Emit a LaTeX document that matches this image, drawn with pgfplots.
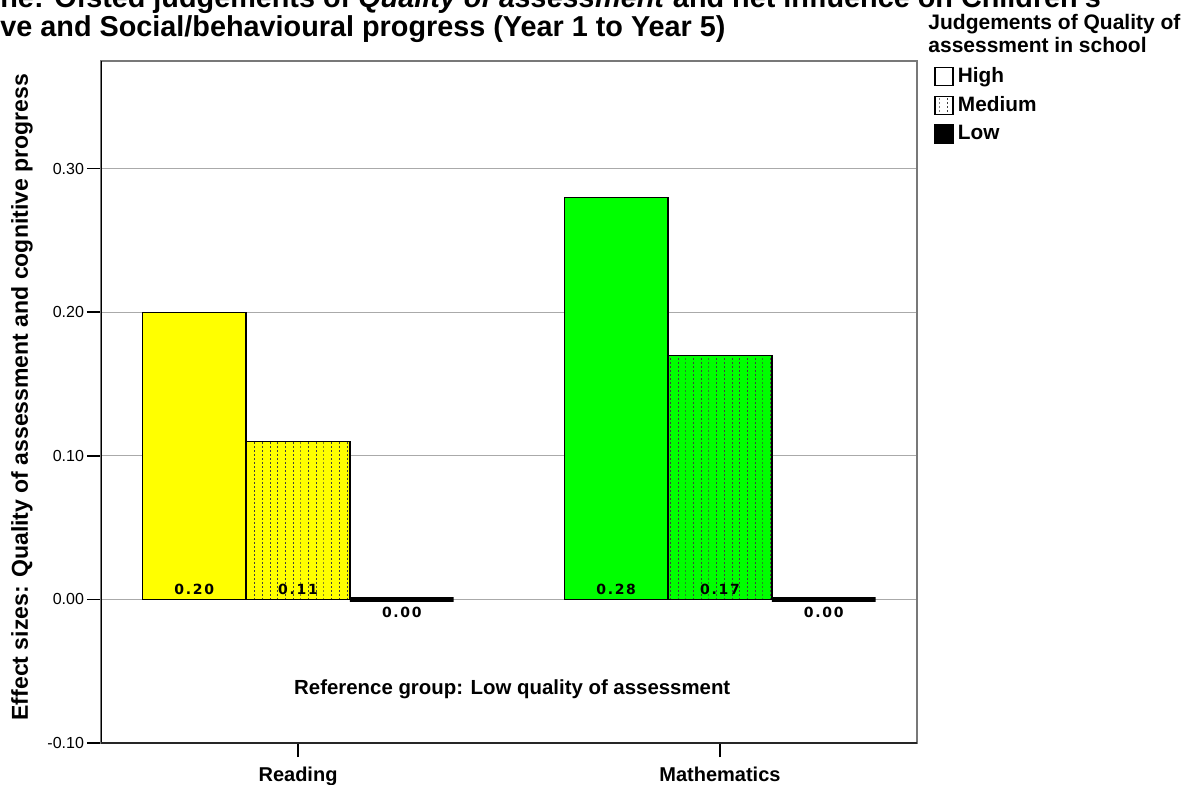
\documentclass[border=0pt]{standalone}
\usepackage{fontspec}
\setmainfont{Liberation Sans}
\newfontfamily\dejavu{DejaVu Sans}
\usepackage{pgfplots}
\pgfplotsset{compat=1.18}
\usetikzlibrary{patterns}

\pgfdeclarepatternformonly{vdots}{\pgfqpoint{0pt}{0pt}}{\pgfqpoint{1pt}{2pt}}{\pgfqpoint{3.85pt}{2pt}}{%
  \pgfpathrectangle{\pgfqpoint{0pt}{0pt}}{\pgfqpoint{0.5pt}{1pt}}\pgfusepath{fill}}

\definecolor{ybarc}{RGB}{255,255,0}
\definecolor{gbarc}{RGB}{0,255,0}
\definecolor{gridc}{RGB}{170,170,170}
\definecolor{framec}{RGB}{120,120,120}

\newcommand\vlab{\dejavu\bfseries\fontsize{7}{8}\selectfont\addfontfeature{LetterSpace=12}}

\pgfplotsset{
  legbox/.style={legend image code/.code={\draw[##1] (0pt,-4.5pt) rectangle (9pt,4.5pt);}},
}

\begin{document}
\begin{tikzpicture}
\begin{axis}[
  at={(0,0)}, anchor=south west, scale only axis,
  width=408pt, height=341pt,
  xmin=-0.467, xmax=1.467, ymin=-0.1, ymax=0.375,
  xtick={0,1}, xticklabels={Reading,Mathematics},
  ytick={-0.1,0,0.1,0.2,0.3},
  xtick pos=bottom, ytick pos=left,
  tick align=outside, major tick length=7pt,
  tick style={black, line width=0.8pt},
  yticklabel style={font=\fontsize{8}{9}\selectfont, xshift=2pt, /pgf/number format/fixed, /pgf/number format/fixed zerofill, /pgf/number format/precision=2, /pgf/number format/assume math mode=true},
  xticklabel style={font=\fontsize{10}{12}\selectfont\bfseries, yshift=-1.5pt},
  ymajorgrids, major grid style={gridc, line width=0.5pt},
  axis line style={framec, line width=0.6pt},
  ylabel={Effect sizes: Quality of assessment and cognitive progress},
  ylabel style={at={(axis description cs:-0.0968,0.507)}, anchor=center, font=\fontsize{11.5}{13}\selectfont\bfseries},
  legend style={at={(axis description cs:1.0134,1.003)}, anchor=north west, draw=none, fill=none,
    font=\fontsize{10.4}{12}\selectfont\bfseries, row sep=1.5pt,
    /tikz/every even column/.append style={column sep=8pt}},
  legend cell align=left,
]
% High
\addplot[ybar, bar width=0.246, bar shift=-0.246, fill=ybarc, draw=black, line width=0.7pt, forget plot] coordinates {(0,0.20)};
\addplot[ybar, bar width=0.246, bar shift=-0.246, fill=gbarc, draw=black, line width=0.7pt, forget plot] coordinates {(1,0.28)};
% Medium
\addplot[ybar, bar width=0.246, bar shift=0, fill=ybarc, draw=black, line width=0.7pt, postaction={pattern=vdots, pattern color=black!75}, forget plot] coordinates {(0,0.11)};
\addplot[ybar, bar width=0.246, bar shift=0, fill=gbarc, draw=black, line width=0.7pt, postaction={pattern=vdots, pattern color=black!75}, forget plot] coordinates {(1,0.17)};
% Low
\addplot[ybar, bar width=0.246, bar shift=0.246, fill=black, draw=black, line width=2.5pt, forget plot] coordinates {(0,0.00) (1,0.00)};
% value labels
\addplot[only marks, mark=none, nodes near coords, point meta=explicit symbolic,
  nodes near coords style={anchor=base, yshift=2.5pt, font=\vlab, text=black}, forget plot]
  coordinates {(-0.246,0) [0.20] (0,0) [0.11] (0.754,0) [0.28] (1,0) [0.17]};
\addplot[only marks, mark=none, nodes near coords, point meta=explicit symbolic,
  nodes near coords style={anchor=base, yshift=-9pt, font=\vlab, text=black}, forget plot]
  coordinates {(0.246,0) [0.00] (1.246,0) [0.00]};
% legend
\addlegendimage{legbox, fill=white, draw=black, line width=0.8pt}
\addlegendentry{High}
\addlegendimage{legbox, fill=white, draw=black, line width=0.8pt, postaction={pattern=vdots, pattern color=black!75}}
\addlegendentry{Medium}
\addlegendimage{legbox, fill=black, draw=black, line width=0.8pt}
\addlegendentry{Low}
% heavier left and bottom axis lines
\draw[black, line width=0.9pt] (rel axis cs:0,0) -- (rel axis cs:0,1);
\draw[black!85, line width=1.3pt] (rel axis cs:0,0) -- (rel axis cs:1,0);
\node[anchor=center, font=\fontsize{10.2}{12}\selectfont\bfseries] at (axis description cs:0.504,0.079) {Reference group: Low quality of assessment};
\end{axis}
\node[anchor=base west, inner sep=0pt, font=\fontsize{10.5}{12.5}\selectfont\bfseries] at (413.5pt,357pt) {Judgements of Quality of};
\node[anchor=base west, inner sep=0pt, font=\fontsize{10.5}{12.5}\selectfont\bfseries] at (413.5pt,345.5pt) {assessment in school};
\node[anchor=base west, font=\fontsize{14.4}{16}\selectfont\bfseries, inner sep=0pt] at (-50.5pt,353.5pt) {ve and Social/behavioural progress (Year 1 to Year 5)};
\node[anchor=base west, font=\fontsize{14.4}{16}\selectfont\bfseries, inner sep=0pt] at (-50.5pt,368pt) {ne: Ofsted judgements of \textit{Quality of assessment} and net influence on Children's};
\pgfresetboundingbox
\useasboundingbox (-50.5pt,-20.5pt) rectangle (542.5pt,371.5pt);
\end{tikzpicture}
\end{document}
